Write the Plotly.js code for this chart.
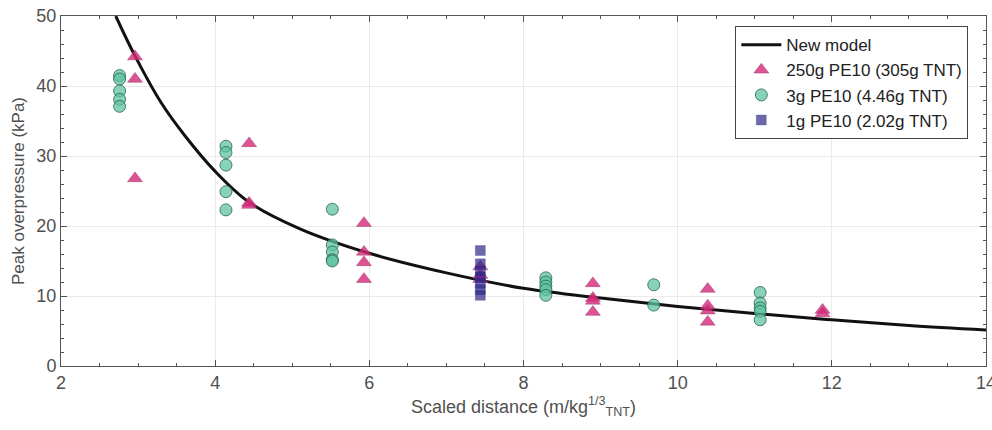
<!DOCTYPE html>
<html>
<head>
<meta charset="utf-8">
<script src="https://cdn.plot.ly/plotly-3.0.1.min.js"></script>
<style>html,body{margin:0;padding:0;background:#fff;}#chart{width:992px;height:430px;}</style>
</head>
<body>
<div id="chart"></div>
<script>
// Model curve
const modelX = [2.71, 2.96, 3.3, 3.6, 4.0, 4.44, 5.1, 6.0, 7.0, 8.0, 9.0, 10.0, 11.0, 12.0, 13.0, 14.0];
const modelY = [50.0, 44.3, 37.6, 33.0, 27.8, 23.4, 19.6, 16.1, 13.3, 11.1, 9.7, 8.5, 7.5, 6.6, 5.8, 5.15];

// 250g PE10 (305g TNT)
const triX = [2.96, 2.96, 2.96, 4.44, 4.44, 4.44, 5.93, 5.93, 5.93, 5.93, 7.44, 7.44, 7.44, 8.90, 8.90, 8.90, 8.90, 10.39, 10.39, 10.39, 10.39, 11.88, 11.88];
const triY = [44.2, 41.0, 26.8, 31.8, 23.3, 23.0, 20.4, 16.3, 14.8, 12.4, 14.2, 13.0, 12.4, 11.8, 9.7, 9.3, 7.7, 11.0, 8.6, 7.9, 6.3, 8.0, 7.5];

// 3g PE10 (4.46g TNT)
const cirX = [2.76, 2.76, 2.76, 2.76, 2.76, 4.14, 4.14, 4.14, 4.14, 4.14, 5.52, 5.52, 5.52, 5.52, 5.52, 8.29, 8.29, 8.29, 8.29, 8.29, 9.69, 9.69, 11.07, 11.07, 11.07, 11.07, 11.07];
const cirY = [41.5, 41.0, 39.3, 38.1, 37.1, 31.4, 30.5, 28.7, 24.9, 22.3, 22.4, 17.3, 16.3, 15.2, 15.0, 12.6, 12.0, 11.4, 10.9, 10.1, 11.6, 8.7, 10.5, 9.0, 8.3, 7.8, 6.6];

// 1g PE10 (2.02g TNT)
const sqX = [7.44, 7.44, 7.44, 7.44, 7.44, 7.44, 7.44];
const sqY = [16.5, 14.6, 13.6, 12.7, 11.8, 10.9, 10.1];

const traces = [
  {x: modelX, y: modelY, type: 'scatter', mode: 'lines', name: 'New model',
   line: {color: '#111111', width: 3, shape: 'spline', smoothing: 1.0}},
  {x: triX, y: triY, type: 'scatter', mode: 'markers', name: '250g PE10 (305g TNT)',
   marker: {symbol: 'triangle-up', size: 13, color: 'rgba(214,40,120,0.8)', line: {color: 'rgba(150,60,110,0.6)', width: 0.8}}},
  {x: cirX, y: cirY, type: 'scatter', mode: 'markers', name: '3g PE10 (4.46g TNT)',
   marker: {symbol: 'circle', size: 12, color: 'rgba(95,195,160,0.75)', line: {color: 'rgba(40,100,80,0.8)', width: 1}}},
  {x: sqX, y: sqY, type: 'scatter', mode: 'markers', name: '1g PE10 (2.02g TNT)',
   marker: {symbol: 'square', size: 10, color: 'rgba(45,40,135,0.7)', line: {color: 'rgba(45,40,135,0.5)', width: 0.5}}}
];

const axisCommon = {
  showline: true, linecolor: '#555555', linewidth: 1, mirror: 'ticks',
  ticks: 'inside', ticklen: 6, tickwidth: 1, tickcolor: '#555555',
  showgrid: true, gridcolor: '#ebebeb', gridwidth: 1, zeroline: false,
  tickfont: {family: 'Liberation Sans, Arial, sans-serif', size: 18, color: '#505050'},
};

const layout = {
  width: 992, height: 430,
  margin: {l: 61, r: 6, t: 16, b: 64},
  paper_bgcolor: '#ffffff', plot_bgcolor: '#ffffff',
  font: {family: 'Liberation Sans, Arial, sans-serif', color: '#505050'},
  xaxis: Object.assign({}, axisCommon, {
    range: [2, 14], tick0: 2, dtick: 2, ticklabeloverflow: 'allow',
    minor: {dtick: 0.5, ticks: 'inside', ticklen: 3, tickcolor: '#555555', showgrid: false},
    title: {text: 'Scaled distance (m/kg<sup>1/3</sup><sub>TNT</sub>)', font: {size: 18, color: '#505050'}, standoff: 8}
  }),
  yaxis: Object.assign({}, axisCommon, {
    range: [0, 50], tick0: 0, dtick: 10,
    minor: {dtick: 2, ticks: 'inside', ticklen: 3, tickcolor: '#555555', showgrid: false},
    title: {text: 'Peak overpressure (kPa)', font: {size: 17, color: '#505050'}, standoff: 7}
  }),
  showlegend: true,
  legend: {
    x: 0.729, y: 0.971, xanchor: 'left', yanchor: 'top',
    bgcolor: '#ffffff', bordercolor: '#444444', borderwidth: 1,
    font: {size: 17, color: '#222222'},
    tracegroupgap: 0, itemwidth: 40
  }
};

Plotly.newPlot('chart', traces, layout, {staticPlot: true, displayModeBar: false});
</script>
</body>
</html>
